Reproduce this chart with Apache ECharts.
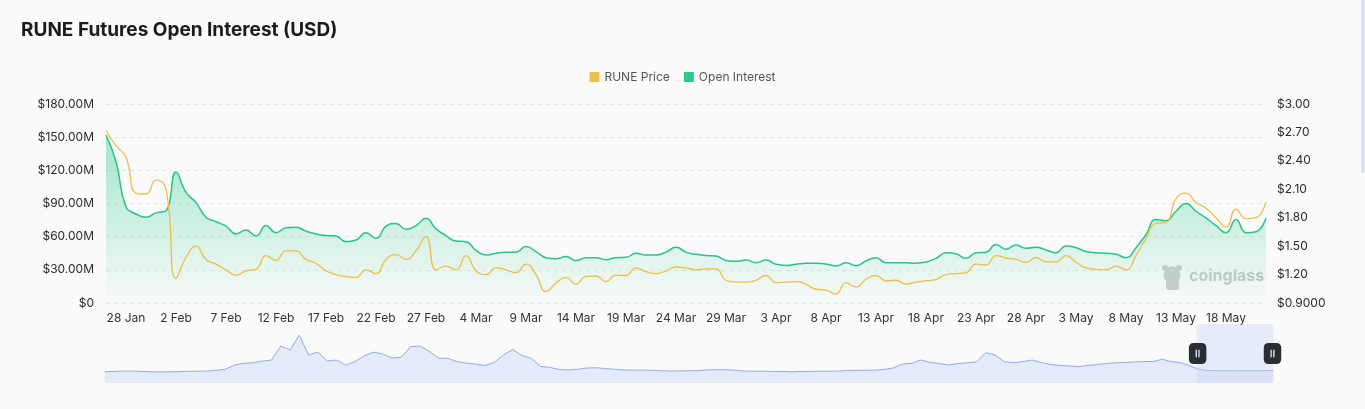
<!DOCTYPE html>
<html>
<head>
<meta charset="utf-8">
<style>
html,body{margin:0;padding:0;background:#fafafa;}
#c{width:1365px;height:409px;}
#sb{position:absolute;right:0;top:0;width:4px;height:173px;background:#dfe3ec;}
</style>
<script src="https://cdn.jsdelivr.net/npm/echarts/dist/echarts.min.js"></script>
</head>
<body>
<div id="c"></div>
<div id="sb"></div>
<script>
// ---- data ----
const seriesStart = '2025-01-26'; // first daily point
// Open interest, millions USD, daily from 26 Jan 2025 to 22 May 2025
const openInterest = [
  152, 128, 87, 80.5, 77.5, 81.5, 83.5, 118.5, 100, 91,
  77.5, 73.5, 69.5, 62.5, 66, 60.6, 70, 63.5, 68, 68.5,
  65, 62.5, 61, 60.5, 55.5, 57, 63.5, 58.5, 69.5, 72,
  66.6, 70, 76.6, 67, 61, 56, 55.5, 47.5, 43.5, 45,
  46, 46, 51, 46.5, 41, 40, 42, 38.3, 41, 41,
  39.2, 41, 41.3, 45, 43.4, 43.4, 46, 50.5, 46, 44,
  43, 42.5, 38.5, 37.7, 38.9, 36.5, 38.9, 35, 34, 35,
  35.9, 35.9, 35.3, 33.5, 36.5, 33.8, 38, 41, 36.5, 36.5,
  36.5, 36, 37, 40.4, 45.5, 44.5, 40.4, 45.5, 46, 53,
  48.6, 52.5, 49.5, 50.4, 48, 45.5, 51.5, 50, 46.5, 45.5,
  45, 44, 41, 50, 62, 75.5, 74.5, 83, 90, 83,
  77, 70, 63.5, 75.5, 63.6, 64.5, 77
];
// RUNE price, USD, same days
const runePrice = [
  2.72, 2.56, 2.44, 2.06, 2.05, 2.2, 2.1, 1.16, 1.38, 1.50,
  1.36, 1.31, 1.25, 1.195, 1.24, 1.255, 1.40, 1.35, 1.45, 1.45,
  1.36, 1.32, 1.24, 1.2, 1.18, 1.17, 1.25, 1.21, 1.36, 1.41,
  1.36, 1.45, 1.60, 1.25, 1.29, 1.25, 1.40, 1.24, 1.20, 1.27,
  1.25, 1.22, 1.31, 1.20, 1.02, 1.11, 1.17, 1.10, 1.18, 1.185,
  1.125, 1.195, 1.19, 1.27, 1.23, 1.21, 1.24, 1.28, 1.27, 1.25,
  1.26, 1.26, 1.14, 1.12, 1.12, 1.14, 1.19, 1.115, 1.12, 1.125,
  1.10, 1.045, 1.035, 0.995, 1.115, 1.07, 1.15, 1.19, 1.135, 1.14,
  1.10, 1.12, 1.135, 1.15, 1.20, 1.21, 1.22, 1.31, 1.30, 1.40,
  1.375, 1.36, 1.33, 1.38, 1.335, 1.335, 1.40, 1.33, 1.27, 1.255,
  1.25, 1.29, 1.25, 1.40, 1.58, 1.74, 1.75, 2.0, 2.06, 1.96,
  1.90, 1.80, 1.70, 1.89, 1.79, 1.80, 1.97
];
// x-axis tick dates
const xTickDates = [
  '2025-01-28','2025-02-02','2025-02-07','2025-02-12','2025-02-17','2025-02-22',
  '2025-02-27','2025-03-04','2025-03-09','2025-03-14','2025-03-19','2025-03-24',
  '2025-03-29','2025-04-03','2025-04-08','2025-04-13','2025-04-18','2025-04-23',
  '2025-04-28','2025-05-03','2025-05-08','2025-05-13','2025-05-18'
];
const monthNames = ['Jan','Feb','Mar','Apr','May','Jun','Jul','Aug','Sep','Oct','Nov','Dec'];
// long price history shown in the zoom slider (USD, every 14 days)
const historyStart = '2020-07-23';
const historyStepDays = 14;
const priceHistory = [
  1.0, 1.2, 1.4, 1.4, 1.2, 1.0, 0.95, 1.0, 1.1, 1.3,
  1.3, 1.4, 1.8, 2.3, 4.5, 5.4, 5.7, 6.6, 7.1, 14.3,
  12.3, 20, 9.7, 11.2, 6.6, 7.1, 4.5, 6.3, 9.2, 11.2,
  10.2, 8.1, 8.6, 14, 14.3, 11.7, 8.1, 8.0, 6.3, 5.5,
  5.0, 4.3, 5.8, 9.7, 12.5, 9.4, 8.0, 3.8, 3.3, 2.2,
  2.0, 2.3, 3.0, 3.1, 2.7, 2.3, 2.0, 1.9, 1.9, 1.8,
  1.6, 1.4, 1.5, 1.6, 1.6, 2.0, 2.1, 2.1, 1.8, 1.4,
  1.3, 1.3, 1.2, 1.2, 1.0, 1.2, 1.2, 1.3, 1.3, 1.4,
  1.7, 1.8, 1.8, 1.9, 2.2, 3.0, 5.0, 5.4, 7.1, 5.9,
  5.3, 4.5, 5.3, 5.7, 6.1, 10.9, 9.7, 6.2, 5.7, 6.3,
  7.1, 5.8, 4.8, 4.3, 4.0, 3.7, 4.3, 4.8, 5.3, 5.7,
  5.8, 6.1, 6.3, 6.3, 7.5, 6.3, 5.7, 4.0, 2.3, 1.7,
  1.6, 1.6, 1.5, 1.6, 1.5, 1.6, 1.7
];

// ---- helpers ----
function dayTs(iso, offsetDays) {
  const p = iso.split('-').map(Number);
  return new Date(p[0], p[1] - 1, p[2] + (offsetDays || 0)).getTime();
}
const oiData = openInterest.map((v, i) => [dayTs(seriesStart, i), v * 1e6]);
const priceData = runePrice.map((v, i) => [dayTs(seriesStart, i), v]);
const historyData = priceHistory.map((v, i) => [dayTs(historyStart, i * historyStepDays), v]);
const windowStart = dayTs(seriesStart, 0);
const windowEnd = dayTs(seriesStart, openInterest.length - 1);
const fullStart = dayTs(historyStart, 0);

const FONT = 'Inter';
const chart = echarts.init(document.getElementById('c'));
chart.setOption({
  animation: false,
  backgroundColor: '#fafafa',
  textStyle: { fontFamily: FONT },
  title: {
    text: 'RUNE Futures Open Interest (USD)',
    left: 21, top: 20, padding: 0,
    textStyle: { fontSize: 19, fontWeight: 'bold', color: '#1b1b1f', fontFamily: FONT, lineHeight: 20 }
  },
  legend: {
    data: ['RUNE Price', 'Open Interest'],
    top: 71, left: 'center', padding: 0,
    icon: 'rect', itemWidth: 10, itemHeight: 10, itemGap: 14,
    textStyle: { fontSize: 12, color: '#555', fontFamily: FONT }
  },
  grid: { left: 106, right: 99, top: 104, bottom: 106 },
  xAxis: {
    type: 'value', min: fullStart, max: windowEnd,
    axisLine: { show: false },
    axisTick: { show: false },
    splitLine: { show: false },
    axisLabel: {
      customValues: xTickDates.map(d => dayTs(d, 0)),
      formatter: function (v) { const d = new Date(v); return d.getDate() + ' ' + monthNames[d.getMonth()]; },
      color: '#333', fontSize: 12, margin: 9, hideOverlap: false
    }
  },
  yAxis: [
    {
      type: 'value', min: 0, max: 180e6, interval: 30e6,
      axisLine: { show: false }, axisTick: { show: false },
      splitLine: { lineStyle: { type: [4, 4], color: '#e6e6e6' } },
      axisLabel: {
        color: '#2a2a2a', fontSize: 12, margin: 12,
        formatter: v => v === 0 ? '$0' : '$' + (v / 1e6).toFixed(2) + 'M'
      }
    },
    {
      type: 'value', min: 0.9, max: 3.0, interval: 0.3, position: 'right',
      axisLine: { show: false }, axisTick: { show: false }, splitLine: { show: false },
      axisLabel: {
        color: '#2a2a2a', fontSize: 12, margin: 11,
        formatter: v => '$' + (v < 1 ? v.toFixed(4) : v.toFixed(2))
      }
    },
    { type: 'value', show: false, scale: true }
  ],
  dataZoom: [{
    type: 'slider', xAxisIndex: 0, filterMode: 'filter',
    startValue: windowStart, endValue: windowEnd,
    left: 102, right: 94, top: 324, height: 59,
    backgroundColor: 'rgba(0,0,0,0)', borderColor: 'rgba(0,0,0,0)',
    fillerColor: 'rgba(196,210,246,0.38)',
    showDetail: false, brushSelect: false, moveHandleSize: 0,
    handleIcon: 'path://M4 0 L10 0 Q14 0 14 4 L14 13 Q14 17 10 17 L4 17 Q0 17 0 13 L0 4 Q0 0 4 0 Z M5.4 5.5 L5.4 11.5 L6.4 11.5 L6.4 5.5 Z M7.6 5.5 L7.6 11.5 L8.6 11.5 L8.6 5.5 Z',
    handleSize: '36%',
    handleStyle: { color: '#2a2d33', borderWidth: 0, borderColor: 'rgba(0,0,0,0)' },
    emphasis: { handleStyle: { color: '#2a2d33', borderWidth: 0 } },
    dataBackground: {
      lineStyle: { color: '#8eacf0', width: 1, opacity: 1 },
      areaStyle: { color: '#e4eaf8', opacity: 1 }
    },
    selectedDataBackground: {
      lineStyle: { color: '#8eacf0', width: 1, opacity: 1 },
      areaStyle: { color: '#e4eaf8', opacity: 1 }
    }
  }],
  graphic: [
    {
      type: 'group', left: 1162, top: 265, silent: true,
      children: [
        { type: 'circle', shape: { cx: 10, cy: 10, r: 8.5 }, style: { fill: '#cdcdcd' } },
        { type: 'circle', shape: { cx: 3, cy: 3, r: 3 }, style: { fill: '#cdcdcd' } },
        { type: 'circle', shape: { cx: 17, cy: 3, r: 3 }, style: { fill: '#cdcdcd' } },
        { type: 'rect', shape: { x: 4, y: 15, width: 13, height: 10, r: 3 }, style: { fill: '#cdcdcd' } }
      ]
    },
    {
      type: 'text', left: 1189, top: 268, silent: true,
      style: { text: 'coinglass', fontSize: 16, fontWeight: 'bold', fill: '#c8c8c8', fontFamily: FONT }
    }
  ],
  series: [
    {
      name: 'history', type: 'line', yAxisIndex: 2, data: historyData,
      symbol: 'none', silent: true, lineStyle: { opacity: 0, width: 0 }, z: 0
    },
    {
      name: 'Open Interest', type: 'line', yAxisIndex: 0, data: oiData,
      smooth: true, symbol: 'none', z: 2,
      itemStyle: { color: '#2ccb8b' },
      lineStyle: { color: '#27c485', width: 1.5 },
      areaStyle: {
        color: new echarts.graphic.LinearGradient(0, 0, 0, 1, [
          { offset: 0, color: 'rgba(44,203,139,0.62)' },
          { offset: 1, color: 'rgba(44,203,139,0.02)' }
        ])
      }
    },
    {
      name: 'RUNE Price', type: 'line', yAxisIndex: 1, data: priceData,
      smooth: true, symbol: 'none', z: 3,
      itemStyle: { color: '#efbf4e' },
      lineStyle: { color: '#f0bd45', width: 1.3 }
    }
  ]
});
</script>
</body>
</html>
